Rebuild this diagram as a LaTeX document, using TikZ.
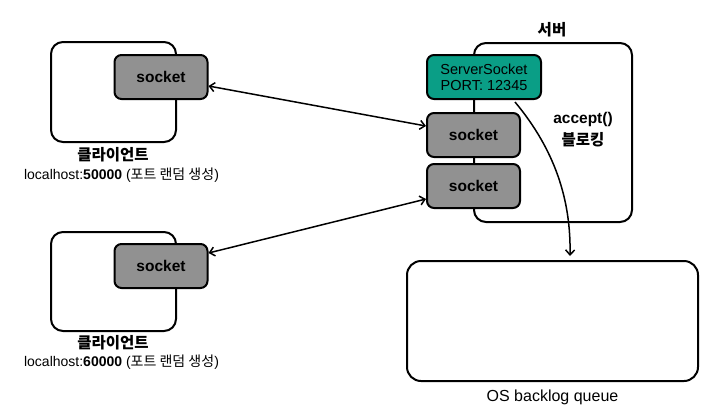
\documentclass[tikz,border=0pt]{standalone}
\usepackage{fontspec}
\setmainfont{Liberation Sans}
\newfontfamily\kr{Noto Sans CJK KR}
\usetikzlibrary{arrows.meta}

\begin{document}
\begin{tikzpicture}
		[
		x=1pt, y=-1pt, line width=2pt, >={Straight Barb[length=5pt,width=9pt]},
		%Voreinstellung für Kästen
		box/.style={draw, rounded corners=12pt, inner sep=0pt},
		sock/.style={draw, fill=sockgray, rounded corners=7pt, inner sep=0pt,
			minimum width=93pt, minimum height=44pt, font=\fontsize{15.5}{18}\selectfont\bfseries},
		lbl/.style={font=\fontsize{15.5}{18}\selectfont\bfseries, inner sep=0pt},
		txt/.style={font=\fontsize{14}{17}\selectfont, inner sep=0pt},
		link/.style={line width=1.5pt}
		]
		\definecolor{sockgray}{HTML}{919191}
		\definecolor{teal}{HTML}{0A9E86}
		
		%Rahmen
		\useasboundingbox (0,0) rectangle (726,413);
		
		%Client 1
		\node[box, minimum width=125pt, minimum height=100pt] (client1) at (113.5,92) {};
		\node[sock] (csock1) at (161,77) {socket};
		\node[lbl] (cname1) at (113,155) {\kr 클라이언트};
		\node[txt] (caddr1) at (121.5,175) {localhost:\textbf{50000} ({\kr 포트 랜덤 생성})};
		
		%Client 2
		\node[box, minimum width=125pt, minimum height=99pt] (client2) at (113.5,281.5) {};
		\node[sock] (csock2) at (161,266) {socket};
		\node[lbl] (cname2) at (113,343) {\kr 클라이언트};
		\node[txt] (caddr2) at (121.5,362) {localhost:\textbf{60000} ({\kr 포트 랜덤 생성})};
		
		%Server
		\node[box, minimum width=158pt, minimum height=179pt] (server) at (553,132.5) {};
		\node[lbl] (sname) at (552,30) {\kr 서버};
		\node[sock, fill=teal, minimum width=114pt, font=\fontsize{14.5}{17}\selectfont, align=center] (ssock) at (484,77) {ServerSocket\\[-1pt]PORT: 12345};
		\node[sock] (sock1) at (473.5,135) {socket};
		\node[sock] (sock2) at (473.5,186) {socket};
		\node[lbl, align=center] (accept) at (583,130) {accept()\\[4pt]{\kr 블로킹}};
		
		%Queue
		\node[box, rounded corners=14pt, minimum width=291pt, minimum height=120pt] (queue) at (552.5,321) {};
		\node[txt, font=\fontsize{16}{19}\selectfont] (qname) at (552.5,397) {OS backlog queue};
		
		%Verbindungen
		\draw[link, <->] ([yshift=-9pt]csock1.east) -- ([yshift=9pt]sock1.west);
		\draw[link, <->] ([yshift=13pt]csock2.east) -- ([yshift=-13pt]sock2.west);
		\draw[link, ->] ([xshift=31pt,yshift=-2pt]ssock.south) .. controls (555,150) and (571,200) .. ([xshift=17.5pt,yshift=4pt]queue.north);
	\end{tikzpicture}
\end{document}
